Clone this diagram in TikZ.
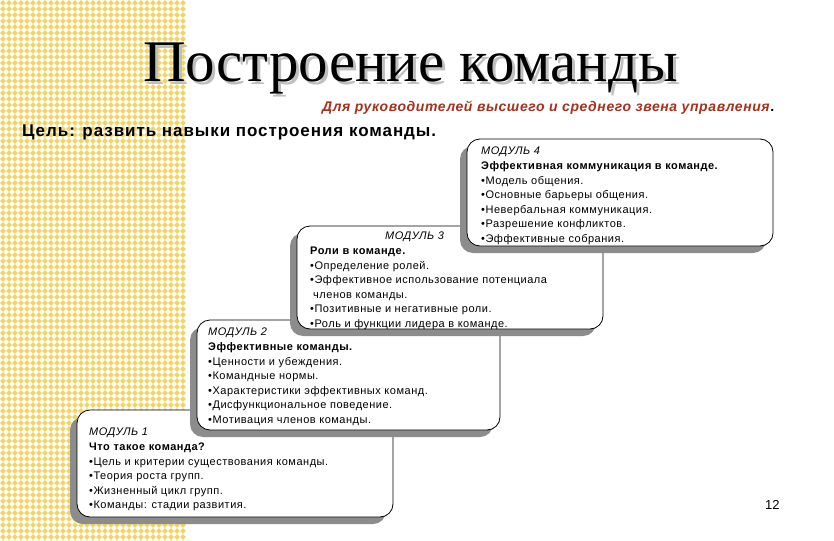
\documentclass[tikz,border=0pt]{standalone}
\usepackage{fontspec}
\setmainfont{Liberation Serif}
\newfontfamily\plainsans{Liberation Sans}
\newfontfamily\bodysp[LetterSpace=4.7]{Liberation Sans}
\newfontfamily\subsp[LetterSpace=4.2]{Liberation Sans}
\newfontfamily\goalsp[LetterSpace=5.5]{Liberation Sans}
\usetikzlibrary{shadows}
\definecolor{patyel}{RGB}{240,212,100}
\definecolor{subred}{RGB}{168,48,28}
\definecolor{shadowgray}{RGB}{140,140,140}
\tikzset{
  modbox/.style={draw=black, line width=0.8pt, fill=white, rounded corners=13pt,
    inner sep=0pt, drop shadow={shadow xshift=-7pt, shadow yshift=-7pt, fill=shadowgray, opacity=1}},
  modtext/.style={anchor=north west, inner sep=0pt, align=left,
    font=\bodysp\fontsize{11}{14.6}\selectfont},
  titlestyle/.style={anchor=base west, inner sep=0pt, font=\rmfamily\fontsize{59}{59}\selectfont},
}
\begin{document}
\begin{tikzpicture}[x=1pt,y=-1pt]
\useasboundingbox (0,0) rectangle (834,540);
\fill[white] (0,0) rectangle (834,540);
% patterned strip
\fill[patyel] foreach \i in {0,...,30} { foreach \j in {0,...,90} {
  (6*\i+3,6*\j+0.2) -- (6*\i+5.8,6*\j+3) -- (6*\i+3,6*\j+5.8) -- (6*\i+0.2,6*\j+3) -- cycle } };
% title
\node[titlestyle, text=gray!50] (titleshadow) at (146,85) {Построение команды};
\node[titlestyle] (title) at (143,82) {Построение команды};
\node[anchor=base west, inner sep=0pt, font=\subsp\fontsize{14}{16}\selectfont] (sub) at (322,112) {\textcolor{subred}{\textbf{\textit{Для руководителей высшего и среднего звена управления}}}\textbf{.}};
\node[anchor=base west, inner sep=0pt, font=\goalsp\bfseries\fontsize{17}{19}\selectfont] (goal) at (22,137) {Цель: развить навыки построения команды.};
% modules
\node[modbox, minimum width=316pt, minimum height=107pt] (m1box) at (235,463.5) {};
\node[modtext] (m1) at (89,428) {\textit{МОДУЛЬ 1}\\ \textbf{Что такое команда?}\\ •Цель и критерии существования команды.\\ •Теория роста групп.\\ •Жизненный цикл групп.\\ •Команды: стадии развития.};
\node[modbox, minimum width=303pt, minimum height=110pt] (m2box) at (348.5,375) {};
\node[modtext] (m2) at (208,328) {\textit{МОДУЛЬ 2}\\ \textbf{Эффективные команды.}\\ •Ценности и убеждения.\\ •Командные нормы.\\ •Характеристики эффективных команд.\\ •Дисфункциональное поведение.\\ •Мотивация членов команды.};
\node[modbox, minimum width=306pt, minimum height=103pt] (m3box) at (450,277.5) {};
\node[modtext] (m3) at (310,232) {\hspace*{75pt}\textit{МОДУЛЬ 3}\\ \textbf{Роли в команде.}\\ •Определение ролей.\\ •Эффективное использование потенциала\\ \hspace*{3pt}членов команды.\\ •Позитивные и негативные роли.\\ •Роль и функции лидера в команде.};
\node[modbox, minimum width=306pt, minimum height=107pt] (m4box) at (620,192.5) {};
\node[modtext] (m4) at (481,147) {\textit{МОДУЛЬ 4}\\ \textbf{Эффективная коммуникация в команде.}\\ •Модель общения.\\ •Основные барьеры общения.\\ •Невербальная коммуникация.\\ •Разрешение конфликтов.\\ •Эффективные собрания.};
\node[anchor=base west, inner sep=0pt, font=\plainsans\fontsize{13}{15}\selectfont] (page) at (765,509) {12};
\end{tikzpicture}
\end{document}
